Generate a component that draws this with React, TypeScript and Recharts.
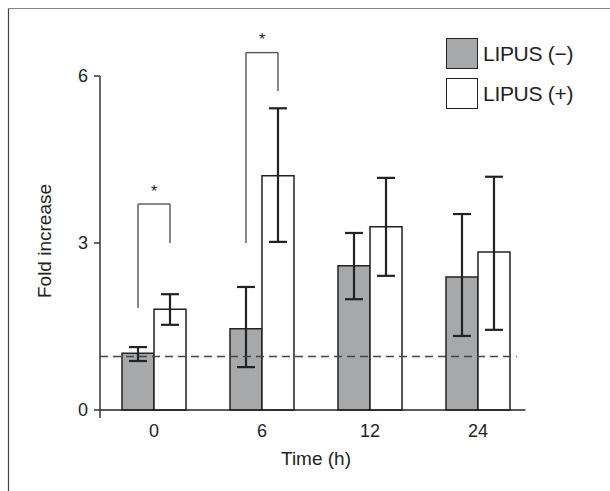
import React from 'react';
import {
  ComposedChart, Bar, XAxis, YAxis, ErrorBar, ReferenceLine, ReferenceDot, Legend, Customized,
} from 'recharts';

// ---- data ----
const categories = ['0', '6', '12', '24'];
const lipusMinus = [1.02, 1.46, 2.59, 2.39];
const lipusMinusLow = [0.88, 0.77, 1.99, 1.33];
const lipusMinusHigh = [1.13, 2.21, 3.18, 3.52];
const lipusPlus = [1.81, 4.21, 3.29, 2.84];
const lipusPlusLow = [1.53, 3.02, 2.41, 1.44];
const lipusPlusHigh = [2.08, 5.42, 4.17, 4.19];
const yTicks = [0, 3, 6];
const baselineValue = 0.96;

// significance brackets (category index, values)
const bracketCat = [0, 1];
const bracketTop = [3.7, 6.42];
const bracketLeftEnd = [1.83, 3.0];
const bracketRightEnd = [3.0, 5.73];
const starValue = [3.92, 6.65];

const seriesNames = ['LIPUS (\u2212)', 'LIPUS (+)'];

const data = categories.map((c, i) => ({
  time: c,
  pos: i + 0.5,
  minus: lipusMinus[i],
  minusErr: [lipusMinus[i] - lipusMinusLow[i], lipusMinusHigh[i] - lipusMinus[i]],
  plus: lipusPlus[i],
  plusErr: [lipusPlus[i] - lipusPlusLow[i], lipusPlusHigh[i] - lipusPlus[i]],
}));

// ---- layout ----
const W = 610;
const H = 491;
const BAND = 108;
const BAR = 32;
const legOffset = BAR / 2 / BAND; // in category units
const FONT = '"Liberation Sans", Arial, Helvetica, sans-serif';
const INK = '#222';
const GRAY = '#a7a8aa';
const seriesFills = [GRAY, '#fff'];

const renderLegend = () => (
  <div style={{ fontFamily: FONT, color: INK }}>
    {seriesNames.map((name, i) => (
      <div key={i} style={{ display: 'flex', alignItems: 'center', height: 40 }}>
        <div
          style={{
            width: 30,
            height: 29,
            background: seriesFills[i],
            border: `1.5px solid ${INK}`,
            marginRight: 5,
          }}
        />
        <span style={{ fontSize: 21, lineHeight: '21px', letterSpacing: -0.3 }}>{name}</span>
      </div>
    ))}
  </div>
);

const Decor = () => (
  <g>
    <line x1={8.5} y1={8.5} x2={W} y2={8.5} stroke="#888" strokeWidth={1.2} />
    <line x1={8.5} y1={8.5} x2={8.5} y2={H} stroke="#444" strokeWidth={1.2} />
    <text
      x={44}
      y={241}
      transform="rotate(-90, 44, 241)"
      textAnchor="middle"
      dominantBaseline="central"
      fontFamily={FONT}
      fontSize={19}
      fill={INK}
    >
      Fold increase
    </text>
  </g>
);

export default function App() {
  return (
    <div style={{ position: 'absolute', left: 0, top: 0, width: W, height: H, background: '#fff' }}>
      <ComposedChart
        width={W}
        height={H}
        data={data}
        margin={{ top: 76, right: 78, bottom: 43, left: 40 }}
        barGap={0}
        barCategoryGap={22}
      >
        <Customized component={<Decor />} />
        <XAxis
          xAxisId="cat"
          dataKey="time"
          axisLine={false}
          tickLine={false}
          tickSize={6}
          tickMargin={0}
          height={30}
          tick={{ fontSize: 18, fill: INK, fontFamily: FONT }}
          label={{ value: 'Time (h)', position: 'bottom', offset: 4, fontSize: 19, fill: INK, fontFamily: FONT }}
        />
        <XAxis
          xAxisId="num"
          dataKey="pos"
          type="number"
          domain={[0, 4]}
          allowDataOverflow
          padding={{ left: 0, right: 0 }}
          hide
        />
        <YAxis
          domain={[-0.144, 6]}
          ticks={yTicks}
          width={60}
          allowDataOverflow
          axisLine={{ stroke: '#333', strokeWidth: 1.5 }}
          tickLine={{ stroke: '#333', strokeWidth: 1.5 }}
          tickSize={6}
          tickMargin={6}
          tick={{ fontSize: 18, fill: INK, fontFamily: FONT }}
        />
        <Bar
          xAxisId="cat"
          dataKey="minus"
          name={seriesNames[0]}
          fill={GRAY}
          stroke={INK}
          strokeWidth={1.5}
          barSize={BAR}
          isAnimationActive={false}
        >
          <ErrorBar dataKey="minusErr" direction="y" width={9} stroke={INK} strokeWidth={2.2} />
        </Bar>
        <Bar
          xAxisId="cat"
          dataKey="plus"
          name={seriesNames[1]}
          fill="#fff"
          stroke={INK}
          strokeWidth={1.5}
          barSize={BAR}
          isAnimationActive={false}
        >
          <ErrorBar dataKey="plusErr" direction="y" width={9} stroke={INK} strokeWidth={2.2} />
        </Bar>
        {/* x axis line at 0 */}
        <ReferenceLine
          xAxisId="num"
          segment={[{ x: 0, y: 0 }, { x: 3.94, y: 0 }]}
          stroke={INK}
          strokeWidth={1.5}
          ifOverflow="visible"
        />
        {/* dashed baseline */}
        <ReferenceLine
          xAxisId="num"
          segment={[{ x: 0, y: baselineValue }, { x: 3.86, y: baselineValue }]}
          stroke="#444"
          strokeWidth={1.6}
          strokeDasharray="8 5"
          ifOverflow="visible"
        />
        {bracketCat.map((c, i) => {
          const xl = c + 0.5 - legOffset;
          const xr = c + 0.5 + legOffset;
          return (
            <React.Fragment key={`br${i}`}>
              <ReferenceLine
                xAxisId="num"
                segment={[{ x: xl, y: bracketLeftEnd[i] }, { x: xl, y: bracketTop[i] }]}
                stroke="#555"
                strokeWidth={1.4}
                ifOverflow="visible"
              />
              <ReferenceLine
                xAxisId="num"
                segment={[{ x: xl, y: bracketTop[i] }, { x: xr, y: bracketTop[i] }]}
                stroke="#555"
                strokeWidth={1.4}
                ifOverflow="visible"
              />
              <ReferenceLine
                xAxisId="num"
                segment={[{ x: xr, y: bracketTop[i] }, { x: xr, y: bracketRightEnd[i] }]}
                stroke="#555"
                strokeWidth={1.4}
                ifOverflow="visible"
              />
              <ReferenceDot
                xAxisId="num"
                x={c + 0.5}
                y={starValue[i]}
                r={1}
                fill="none"
                stroke="none"
                ifOverflow="visible"
                label={{ value: '*', position: 'center', fontSize: 16, fill: INK, fontFamily: FONT }}
              />
            </React.Fragment>
          );
        })}
        <Legend
          layout="horizontal"
          verticalAlign="middle"
          align="center"
          content={renderLegend}
          wrapperStyle={{ top: 33, left: 446, width: 160 }}
        />
      </ComposedChart>
    </div>
  );
}
